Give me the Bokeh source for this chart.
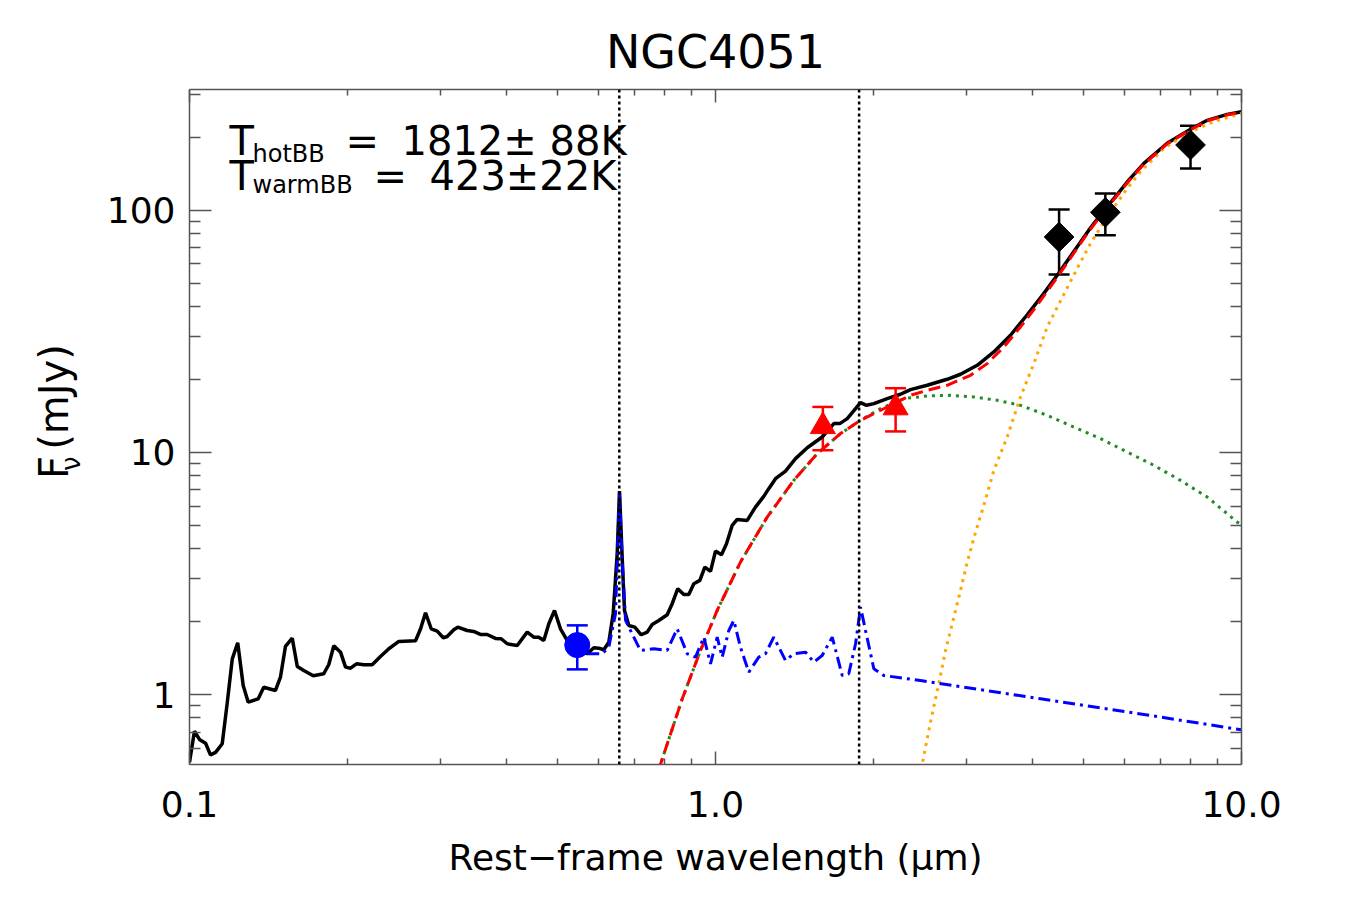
import numpy as np
from bokeh.plotting import figure
from bokeh.layouts import row
from bokeh.models import LogAxis, FixedTicker, Label, Span, Whisker, TeeHead, ColumnDataSource
from bokeh.core.properties import value
from bokeh.embed import file_html
from bokeh.resources import INLINE

# ---------------- data (rest-frame wavelength in micron, flux density in mJy) ----------------
# total model: observed optical spectrum + fitted hot/warm blackbodies
total_wave = [0.100, 0.1022, 0.1046, 0.1073, 0.1096, 0.1121, 0.1154, 0.1179, 0.1206, 0.1235,
              0.1265, 0.1293, 0.1351, 0.1384, 0.1457, 0.1489, 0.1522, 0.1568, 0.1603, 0.1649,
              0.1719, 0.1800, 0.1840, 0.1881, 0.1937, 0.1980, 0.2024, 0.2077, 0.2145, 0.2225,
              0.2307, 0.2393, 0.2500, 0.2690, 0.2750, 0.2810, 0.2881, 0.2958, 0.3037, 0.3090,
              0.3180, 0.3236, 0.3372, 0.3470, 0.3573, 0.3680, 0.3816, 0.3913, 0.4018, 0.4198,
              0.4385, 0.4514, 0.4614, 0.4716, 0.4821, 0.4942, 0.5073, 0.5224, 0.5703, 0.5870,
              0.6000, 0.6132, 0.6268, 0.6390, 0.6503, 0.6569, 0.6646, 0.6714, 0.6842, 0.7024,
              0.7222, 0.7416, 0.7580, 0.7802, 0.8094, 0.8273, 0.8478, 0.8704, 0.8897, 0.9094,
              0.9338, 0.9544, 0.9784, 1.000, 1.0266, 1.0493, 1.0757, 1.0997, 1.1489, 1.1912,
              1.2353, 1.2626, 1.3004, 1.3586, 1.4194, 1.4942, 1.5951, 1.6786, 1.7232, 1.7803,
              1.8461, 1.8869, 1.9370, 2.000, 2.1206, 2.247, 2.348, 2.526, 2.757, 2.923,
              3.145, 3.382, 3.638, 3.914, 4.200, 4.495, 4.731, 5.125, 5.473, 5.802,
              6.105, 6.523, 7.222, 8.000, 8.606, 9.393, 10.0]
total_flux = [0.525, 0.705, 0.650, 0.629, 0.563, 0.577, 0.626, 0.915, 1.404, 1.635,
              1.089, 0.930, 0.960, 1.072, 1.039, 1.179, 1.579, 1.708, 1.305, 1.256,
              1.195, 1.218, 1.330, 1.590, 1.496, 1.297, 1.284, 1.339, 1.327, 1.327,
              1.436, 1.545, 1.656, 1.667, 1.868, 2.176, 1.868, 1.826, 1.715, 1.736,
              1.851, 1.897, 1.838, 1.821, 1.770, 1.770, 1.704, 1.699, 1.620, 1.594,
              1.809, 1.725, 1.725, 1.672, 1.960, 2.224, 1.868, 1.672, 1.473, 1.560,
              1.554, 1.530, 1.644, 2.156, 3.814, 6.92, 3.692, 2.224, 1.928, 1.897,
              1.765, 1.809, 1.946, 2.022, 2.135, 2.371, 2.734, 2.590, 2.590, 2.868,
              2.959, 3.358, 3.224, 3.909, 3.779, 4.195, 4.992, 5.286, 5.236, 5.943,
              6.580, 7.079, 7.786, 8.369, 9.418, 10.45, 11.57, 13.14, 13.14, 13.78,
              15.16, 16.05, 15.64, 15.89, 16.67, 17.37, 18.16, 18.92, 20.03, 21.01,
              22.88, 25.97, 30.45, 37.0, 45.0, 55.0, 64.5, 82.7, 99.5, 116.0,
              133.0, 156.0, 189.0, 216.0, 235.0, 248.5, 254.8]

# accretion-disk / stellar component (spectrum, then power-law extension)
agn_wave = [0.5703, 0.6090, 0.6268, 0.6455, 0.6569, 0.6646, 0.6746, 0.6993, 0.7200, 0.7633,
            0.8094, 0.8456, 0.8836, 0.9162, 0.9502, 0.9784, 1.0074, 1.0297, 1.0600, 1.0835,
            1.1155, 1.1569, 1.2085, 1.2446, 1.2904, 1.3586, 1.4090, 1.4832, 1.5381, 1.5951,
            1.6670, 1.7415, 1.7921, 1.8461, 1.8869, 1.9285, 2.000, 2.089, 2.453, 4.149,
            6.523, 10.0]
agn_flux = [1.473, 1.473, 1.568, 2.156, 6.80, 3.60, 2.022, 1.725, 1.520, 1.545,
            1.520, 1.868, 1.473, 1.426, 1.725, 1.339, 1.725, 1.426, 1.838, 2.022,
            1.568, 1.236, 1.426, 1.473, 1.725, 1.382, 1.473, 1.496, 1.360, 1.449,
            1.725, 1.198, 1.218, 1.620, 2.295, 1.838, 1.277, 1.198, 1.142, 0.960,
            0.827, 0.715]

# hot dust blackbody
hot_wave = [0.78, 0.8645, 0.9365, 1.0074, 1.1155, 1.254, 1.409, 1.5611, 1.7284, 1.8869,
            2.0595, 2.280, 2.526, 2.798, 3.098, 3.432, 3.800, 4.272, 4.799, 5.394,
            6.063, 6.812, 7.656, 8.606, 9.813, 10.0]
hot_flux = [0.49, 0.960, 1.520, 2.224, 3.522, 5.403, 7.661, 9.88, 11.95, 13.56,
            15.16, 16.67, 17.09, 17.20, 16.93, 16.40, 15.64, 14.22, 12.72, 11.39,
            10.03, 8.838, 7.661, 6.537, 5.152, 5.04]

# warm dust blackbody
warm_wave = [2.46, 2.526, 2.582, 2.658, 2.737, 2.839, 2.923, 3.010, 3.122, 3.237,
             3.382, 3.586, 3.800, 4.029, 4.272, 4.563, 4.870, 5.164, 5.555, 6.063,
             6.427, 7.117, 7.886, 8.857, 10.0]
warm_flux = [0.49, 0.656, 0.832, 1.107, 1.520, 2.086, 2.690, 3.522, 4.686, 6.039,
             8.425, 11.57, 16.93, 23.25, 32.95, 43.59, 57.43, 73.0, 93.83, 122.9,
             144.0, 180.0, 208.0, 232.0, 251.0]

# hot + warm blackbodies
dust_wave = [0.78, 0.8645, 0.9365, 1.0074, 1.1155, 1.254, 1.409, 1.5611, 1.7284, 1.8869,
             2.1206, 2.348, 2.526, 2.757, 3.054, 3.285, 3.533, 3.800, 4.089, 4.495,
             4.799, 5.125, 5.473, 5.802, 6.105, 6.523, 7.222, 8.000, 8.606, 9.393, 10.0]
dust_flux = [0.49, 0.960, 1.520, 2.224, 3.522, 5.403, 7.661, 9.88, 11.95, 13.56,
             15.39, 17.20, 18.04, 18.92, 20.81, 23.25, 27.23, 32.95, 40.50, 54.0,
             66.4, 81.7, 98.5, 115.0, 132.0, 155.0, 188.0, 215.0, 234.0, 247.6, 254.1]

# photometry
opt_wave, opt_flux, opt_err = [0.546], [1.60], [0.33]
nir_wave, nir_flux, nir_err = [1.60, 2.20], [12.8, 15.3], [2.6, 3.1]
mir_wave, mir_flux, mir_err = [4.50, 5.51, 8.00], [77.5, 98.0, 185.9], [23.2, 19.2, 37.2]

# emission lines marked (H-alpha, Pa-alpha)
line_waves = [0.6563, 1.8751]

x_ticks, x_tick_labels = [0.1, 1.0, 10.0], ["0.1", "1.0", "10.0"]
x_minor = [0.2, 0.3, 0.4, 0.5, 0.6, 0.7, 0.8, 0.9, 2, 3, 4, 5, 6, 7, 8, 9]
y_ticks, y_tick_labels = [1, 10, 100], ["1", "10", "100"]
y_minor = [0.6, 0.7, 0.8, 0.9, 2, 3, 4, 5, 6, 7, 8, 9, 20, 30, 40, 50, 60, 70, 80, 90, 200, 300]

title_text = "NGC4051"
xlabel_text = "Rest\u2212frame wavelength (\u03bcm)"
ylabel_parts = ["F", "\u03bd", "(mJy)"]
t_hot, t_warm = "1812\u00b1 88K", "423\u00b122K"

# ---------------- layout constants (pixels) ----------------
W, H = 1350, 900
LW = 100                       # strip holding the rotated y label
BL, BR, BT, BB = 89, 109, 89, 136
FONT = "DejaVu Sans"
AXC = "#555555"

# ---------------- y-label strip (pieces placed by their centres) ----------------
lab = figure(width=LW, height=H, x_range=(0, LW), y_range=(0, H),
             x_axis_location=None, y_axis_location=None,
             output_backend="svg", toolbar_location=None, min_border=0)
lab.grid.visible = False
lab.outline_line_color = None
lab.background_fill_color = "white"
lab.border_fill_color = "white"
ylab_x = [53, 70, 53]
ylab_y = [H - 504, H - 499, H - 410]
ylab_size = ["40px", "26px", "40px"]
for tx, ty, tt, ts in zip(ylab_x, ylab_y, ylabel_parts, ylab_size):
    lab.text(x=[tx], y=[ty], text=[tt], angle=np.pi / 2,
             text_font=value(FONT), text_font_size=ts, text_color="black",
             text_align="center", text_baseline="middle")

# ---------------- main plot ----------------
p = figure(width=W - LW, height=H, x_axis_type="log", y_axis_type="log",
           x_range=(0.1, 10.0), y_range=(0.514, 315.0),
           output_backend="svg", toolbar_location=None,
           min_border_left=BL, min_border_right=BR, min_border_top=BT, min_border_bottom=BB)
p.grid.visible = False
p.outline_line_color = None
p.background_fill_color = "white"
p.border_fill_color = "white"

p.title.text = title_text
p.title.align = "center"
p.title.text_font = FONT
p.title.text_font_size = "46px"
p.title.text_font_style = "normal"
p.title.text_color = "black"
p.title.standoff = 21


def style_axis(ax, ticks, minor, labels, tick_len, standoff):
    ax.ticker = FixedTicker(ticks=ticks, minor_ticks=minor)
    ax.axis_line_color = AXC
    ax.axis_line_width = 1.5
    ax.major_tick_line_color = AXC
    ax.minor_tick_line_color = AXC
    ax.major_tick_line_width = 1.5
    ax.minor_tick_line_width = 1.5
    ax.major_tick_in = tick_len
    ax.major_tick_out = 0
    ax.minor_tick_in = tick_len // 2
    ax.minor_tick_out = 0
    ax.major_label_text_font = FONT
    ax.major_label_text_font_size = "36px"
    ax.major_label_text_color = "black"
    ax.major_label_standoff = standoff
    ax.major_label_overrides = dict(zip(ticks, labels))


style_axis(p.xaxis[0], x_ticks, x_minor, x_tick_labels, 13, 26)
style_axis(p.yaxis[0], y_ticks, y_minor, y_tick_labels, 22, 14)

p.xaxis[0].axis_label = xlabel_text
p.xaxis[0].axis_label_text_font = FONT
p.xaxis[0].axis_label_text_font_size = "36px"
p.xaxis[0].axis_label_text_font_style = "normal"
p.xaxis[0].axis_label_text_color = "black"
p.xaxis[0].axis_label_standoff = 17

top_ax = LogAxis()
style_axis(top_ax, x_ticks, x_minor, [""] * len(x_ticks), 13, 0)
top_ax.major_label_text_font_size = "0px"
p.add_layout(top_ax, "above")
right_ax = LogAxis()
style_axis(right_ax, y_ticks, y_minor, [""] * len(y_ticks), 22, 0)
right_ax.major_label_text_font_size = "0px"
p.add_layout(right_ax, "right")

# vertical markers of the emission lines
for lw in line_waves:
    p.add_layout(Span(location=lw, dimension="height", line_color="black",
                      line_width=2.5, line_dash="3 3"))

# model curves
p.line(total_wave, total_flux, line_color="black", line_width=3.5)
p.line(hot_wave, hot_flux, line_color="#228B22", line_width=3, line_dash="3 5")
p.line(warm_wave, warm_flux, line_color="#FFA500", line_width=3, line_dash="3 5")
p.line(dust_wave, dust_flux, line_color="#FF0000", line_width=3, line_dash="12 6")
p.line(agn_wave, agn_flux, line_color="#0000FF", line_width=3, line_dash="12 5 3 5")


def error_bars(xs, ys, es, color):
    src = ColumnDataSource(dict(x=xs, up=[y + e for y, e in zip(ys, es)],
                                lo=[y - e for y, e in zip(ys, es)]))
    p.add_layout(Whisker(source=src, base="x", upper="up", lower="lo", dimension="height",
                         line_color=color, line_width=2.5,
                         upper_head=TeeHead(size=21, line_color=color, line_width=2.5),
                         lower_head=TeeHead(size=21, line_color=color, line_width=2.5)))


error_bars(opt_wave, opt_flux, opt_err, "#0000FF")
error_bars(nir_wave, nir_flux, nir_err, "#FF0000")
error_bars(mir_wave, mir_flux, mir_err, "black")

p.scatter(opt_wave, opt_flux, marker="circle", size=25, color="#0000FF")
p.scatter(nir_wave, nir_flux, marker="triangle", size=25, color="#FF0000")
p.scatter(mir_wave, mir_flux, marker="square", angle=np.pi / 4, size=21, color="black")


# ---------------- temperature annotation (canvas pixel positions) ----------------
def canvas_label(cx, cy, text, size):
    p.add_layout(Label(x=cx - LW - BL, y=(H - BB) - cy, x_units="screen", y_units="screen",
                       text=text, text_font=FONT, text_font_size=f"{size}px",
                       text_color="black", text_align="left", text_baseline="alphabetic"))


canvas_label(229, 140, "T", 40)
canvas_label(252, 153, "hotBB", 24)
canvas_label(345, 140, "=", 40)
canvas_label(401, 140, t_hot, 40)

canvas_label(229, 175, "T", 40)
canvas_label(252, 184, "warmBB", 24)
canvas_label(373, 175, "=", 40)
canvas_label(429, 175, t_warm, 40)

layout = row(lab, p)
open("out.html", "w").write(file_html(layout, INLINE))
